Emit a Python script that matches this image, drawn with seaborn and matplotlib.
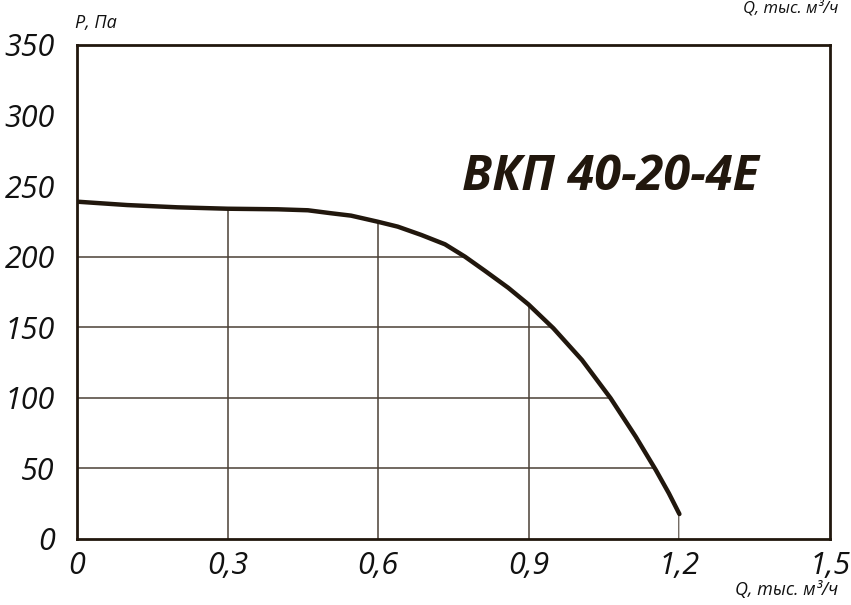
import numpy as np
import pandas as pd
import matplotlib
matplotlib.use("Agg")
import matplotlib.pyplot as plt
from matplotlib.patches import Polygon
import seaborn as sns

# Data
flow_q = [0.0, 0.1, 0.2, 0.3, 0.4, 0.46, 0.506, 0.546, 0.599, 0.639, 0.686, 0.733,
          0.773, 0.813, 0.859, 0.899, 0.949, 1.006, 1.063, 1.113, 1.153, 1.179, 1.2]
pressure_p = [239, 236.6, 235, 234, 233.6, 232.9, 230.8, 229.1, 224.8, 221.3, 215.4, 208.8,
              200, 189.9, 178, 166.3, 149.3, 126.8, 99.7, 72.5, 48.9, 32.4, 17.7]
x_ticks = [0, 0.3, 0.6, 0.9, 1.2, 1.5]
x_tick_labels = ["0", "0,3", "0,6", "0,9", "1,2", "1,5"]
y_ticks = [0, 50, 100, 150, 200, 250, 300, 350]
model_name = "ВКП 40-20-4Е"
x_label = "Q, тыс. м³/ч"
y_label = "P, Па"

sns.set_style("white")
plt.rcParams['font.family'] = ['Open Sans', 'DejaVu Sans']

df = pd.DataFrame({"Q": flow_q, "P": pressure_p})

fig = plt.figure(figsize=(8.51, 6.05), dpi=100)
ax = fig.add_axes([77 / 851, 1 - 539 / 605, (830 - 77) / 851, (539 - 45) / 605])

dark = "#21170d"
grid_c = "#4a4036"

ax.set_xlim(0, 1.5)
ax.set_ylim(0, 350)

# Grid clipped to the area under the curve
verts = list(zip(flow_q, pressure_p)) + [(flow_q[-1], 0), (0, 0)]
clip = Polygon(verts, closed=True, transform=ax.transData, facecolor="none", edgecolor="none")
ax.add_patch(clip)
for xv in x_ticks[1:-1]:
    ln = ax.axvline(xv, color=grid_c, lw=1.1, zorder=1)
    ln.set_clip_path(clip)
for yv in y_ticks[1:-1]:
    ln = ax.axhline(yv, color=grid_c, lw=1.1, zorder=1)
    ln.set_clip_path(clip)

sns.lineplot(data=df, x="Q", y="P", ax=ax, color=dark, lw=3.2, zorder=3)
for l in ax.lines:
    l.set_solid_joinstyle("round")

ax.set_xticks(x_ticks)
ax.set_xticklabels(x_tick_labels)
ax.set_yticks(y_ticks)
ax.set_yticklabels([str(v) for v in y_ticks])
ax.tick_params(axis="x", length=0, pad=9, labelsize=22, colors="#111111")
ax.tick_params(axis="y", length=7, width=1.3, color=grid_c, pad=9, labelsize=22, labelcolor="#111111")
for lab in ax.get_xticklabels() + ax.get_yticklabels():
    lab.set_fontstyle("italic")
ax.set_xlabel("")
ax.set_ylabel("")

for s in ax.spines.values():
    s.set_color(dark)
    s.set_linewidth(2.0)

ax.text(1.063, 256, model_name, fontsize=35, fontweight="bold", fontstyle="italic",
        color=dark, ha="center", va="center")

fig.text(75 / 851, 1 - 23 / 605, y_label, fontsize=13, fontstyle="italic",
         color="#111111", ha="left", va="center")
fig.text(838 / 851, 1 - 590 / 605, x_label, fontsize=13, fontstyle="italic",
         color="#111111", ha="right", va="center")
fig.text(838 / 851, 1 - 8 / 605, x_label, fontsize=12, fontstyle="italic",
         color="#111111", ha="right", va="center")

fig.savefig("out.png", dpi=100)
